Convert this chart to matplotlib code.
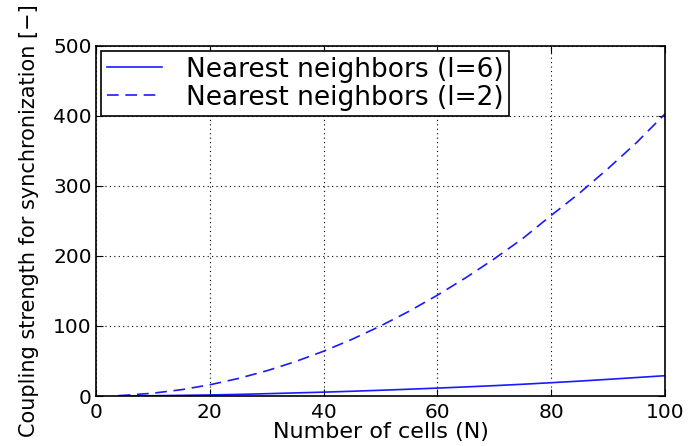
import matplotlib
matplotlib.use("Agg")
import matplotlib.pyplot as plt

plt.rcParams['font.family'] = ['DejaVu Sans']

N = [4, 5, 10, 15, 20, 25, 30, 35, 40, 45, 50, 55, 60, 65, 70, 75, 80, 85, 90, 95, 100]
k_l6 = [0.1, 0.15, 0.4, 0.9, 1.5, 2.3, 3.3, 4.4, 5.5, 6.8, 8.2, 9.7, 11.3, 13, 14.8, 16.8, 19, 21.3, 23.8, 26.4, 29]
k_l2 = [0.6, 1, 4, 9, 16, 25, 36, 49, 64, 81, 100, 121, 144, 169, 196, 225, 258, 290, 325, 362, 403]
xticks = [0, 20, 40, 60, 80, 100]
yticks = [0, 100, 200, 300, 400, 500]

fig = plt.figure(figsize=(6.89, 4.46), dpi=100)
ax = fig.add_axes([0.1393, 0.1121, 0.8259, 0.7848])
ax.plot(N, k_l6, color='#1a1aff', linestyle='-', linewidth=1.2, label='Nearest neighbors (l=6)')
ax.plot(N, k_l2, color='#1a1aff', linestyle=(0, (7, 4)), linewidth=1.2, label='Nearest neighbors (l=2)')
ax.set_xlim(0, 100)
ax.set_ylim(0, 500)
ax.set_xticks(xticks)
ax.set_yticks(yticks)
ax.tick_params(direction='in', top=True, right=True, labelsize=14.5, length=5, width=0.8)
ax.tick_params(axis='x', pad=5)
ax.tick_params(axis='y', pad=3)
ax.grid(True, color='black', linestyle=(0, (1, 3)), linewidth=0.8)
for s in ax.spines.values():
    s.set_linewidth(1.2)
ax.set_xlabel('Number of cells (N)', fontsize=16, labelpad=0)
ax.set_ylabel('Coupling strength for synchronization [−]', fontsize=15, labelpad=10)
leg = ax.legend(loc='upper left', fontsize=19, frameon=True, fancybox=False,
                edgecolor='black', framealpha=1, handlelength=2.1, handletextpad=0.9,
                borderaxespad=0.2, borderpad=0.2, labelspacing=0.08)
leg.get_frame().set_linewidth(1.2)
fig.savefig('out.png', dpi=100)
